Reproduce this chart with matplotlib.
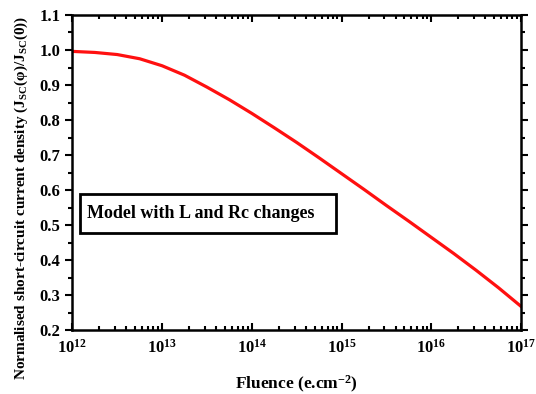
import numpy as np
import matplotlib
matplotlib.use('Agg')
import matplotlib.pyplot as plt
from matplotlib.patches import Rectangle
from matplotlib.ticker import MultipleLocator, LogLocator

plt.rcParams['font.family'] = ['Liberation Serif', 'DejaVu Serif']
plt.rcParams['font.weight'] = 'bold'
plt.rcParams['axes.labelweight'] = 'bold'
plt.rcParams['mathtext.fontset'] = 'custom'
plt.rcParams['mathtext.rm'] = 'Liberation Serif:bold'
plt.rcParams['mathtext.bf'] = 'Liberation Serif:bold'
plt.rcParams['mathtext.it'] = 'Liberation Serif:bold'
plt.rcParams['mathtext.default'] = 'regular'

log_fluence = [12.0, 12.25, 12.5, 12.75, 13.0, 13.25, 13.5, 13.75, 14.0,
               14.25, 14.5, 14.75, 15.0, 15.25, 15.5, 15.75, 16.0, 16.25,
               16.5, 16.75, 17.0]
jsc_norm = [0.996, 0.993, 0.987, 0.975, 0.955, 0.928, 0.894, 0.858, 0.819,
            0.778, 0.736, 0.692, 0.647, 0.602, 0.556, 0.511, 0.465, 0.419,
            0.371, 0.321, 0.268]
fluence = 10.0 ** np.array(log_fluence)

fig = plt.figure(figsize=(5.36, 3.94), dpi=100)
ax = fig.add_axes([0.135, 0.162, 0.837, 0.800])

ax.plot(fluence, jsc_norm, color='#ff1010', lw=2.3)

ax.set_xscale('log')
ax.set_xlim(1e12, 1e17)
ax.set_ylim(0.2, 1.1)
ax.yaxis.set_major_locator(MultipleLocator(0.1))
ax.yaxis.set_minor_locator(MultipleLocator(0.05))
ax.xaxis.set_major_locator(LogLocator(base=10, numticks=10))
ax.xaxis.set_minor_locator(LogLocator(base=10, subs=np.arange(2, 10), numticks=10))

for s in ax.spines.values():
    s.set_linewidth(1.8)

ax.tick_params(which='both', top=True, right=True, width=1.5, labelsize=12)
ax.tick_params(which='major', length=5)
ax.tick_params(which='minor', length=3)
ax.tick_params(axis='x', which='both', direction='in', pad=6)
ax.tick_params(axis='y', which='both', direction='out')
ax.set_yticklabels(['%.1f' % v for v in ax.get_yticks()])

ax.set_xlabel(r'Fluence (e.cm$^{-2}$)', fontsize=12.5)
ax.xaxis.set_label_coords(0.5, -0.14)
ax.set_ylabel(r'Normalised short-circuit current density (J$_{SC}$(φ)/J$_{SC}$(0))',
              fontsize=11)
ax.yaxis.set_label_coords(-0.095, 0.42)

# annotation box
ax.add_patch(Rectangle((0.017, 0.308), 0.570, 0.124, transform=ax.transAxes,
                       fc='white', ec='black', lw=2, zorder=3))
ax.text(0.033, 0.371, 'Model with L and Rc changes', transform=ax.transAxes,
        ha='left', va='center', fontsize=13, zorder=4)

fig.savefig('out.png', dpi=100)
